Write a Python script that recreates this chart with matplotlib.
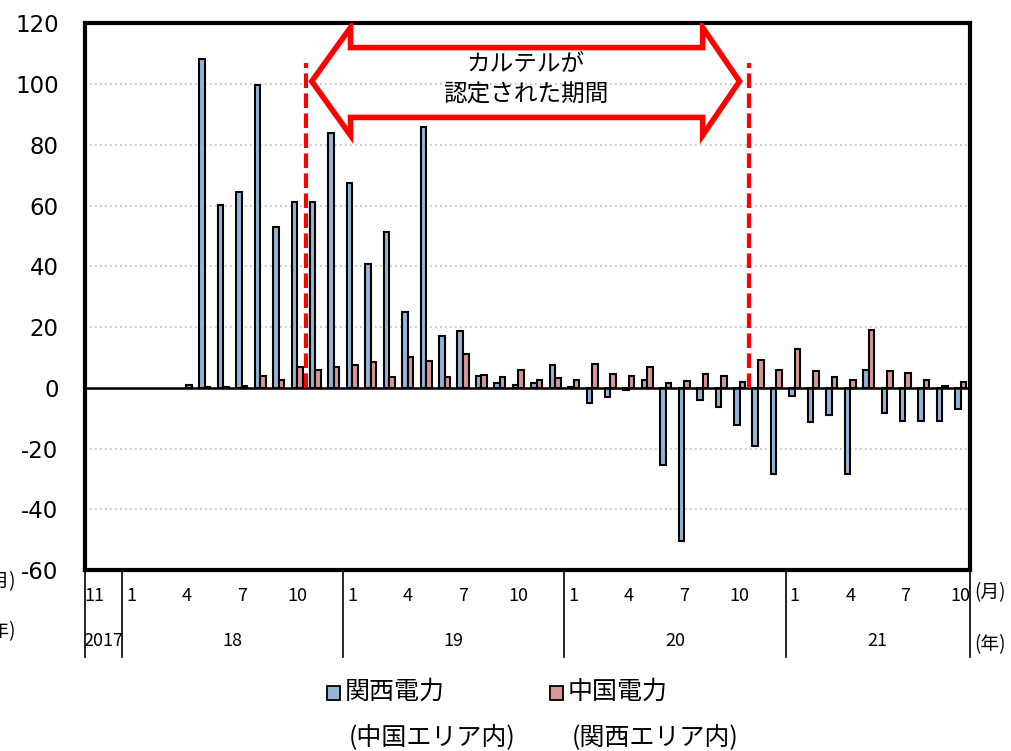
import numpy as np
import matplotlib
matplotlib.use("Agg")
import matplotlib.pyplot as plt
from matplotlib.patches import Polygon, Rectangle
from matplotlib.transforms import blended_transform_factory

plt.rcParams["font.family"] = ["Noto Sans CJK JP", "DejaVu Sans"]

# ── data: monthly values, Nov 2017 .. Oct 2021 ─────────────────────────
kansai = [0, 0, 0, 0, 0, 0, 108.2, 60.3, 64.6, 99.8, 53.0, 61.3,
          61.3, 83.8, 67.4, 40.8, 51.3, 25.0, 85.7, 16.9, 18.6, 3.9, 1.6, 0.9,
          1.6, 7.4, 0.3, -5.0, -3.2, -0.9, 2.7, -25.3, -50.6, -3.9, -6.3, -12.4,
          -19.2, -28.4, -2.8, -11.3, -8.9, -28.4, 6.0, -8.4, -10.8, -11.1, -11.1, -6.9]
chugoku = [0, 0, 0, 0, 0, 0.8, 0.3, 0.3, 0.5, 4.0, 2.6, 6.7,
           5.7, 6.7, 7.4, 8.5, 3.4, 10.2, 8.8, 3.4, 11.1, 4.3, 3.6, 6.0,
           2.7, 3.3, 2.7, 7.7, 4.6, 4.0, 7.0, 1.6, 2.1, 4.4, 4.0, 2.0,
           9.1, 6.0, 12.6, 5.4, 3.7, 2.4, 19.1, 5.4, 4.7, 2.7, 0.7, 2.0]
month_pos = [0, 2, 5, 8, 11, 14, 17, 20, 23, 26, 29, 32, 35, 38, 41, 44, 47]
month_lbl = ["11", "1", "4", "7", "10", "1", "4", "7", "10",
             "1", "4", "7", "10", "1", "4", "7", "10"]
year_pos = [0.5, 7.5, 19.5, 31.5, 42.5]
year_lbl = ["2017", "18", "19", "20", "21"]
year_sep = [-0.5, 1.5, 13.5, 25.5, 37.5, 47.5]
cartel = (11.5, 35.5)          # Nov 2018 .. Oct 2020

BLUE, PINK = "#95B3D7", "#D99694"

fig = plt.figure(figsize=(10.12, 7.51), dpi=100)
ax = fig.add_axes([0.084, 0.241, 0.8745, 0.728])

x = np.arange(len(kansai))
w = 0.3
# no outline on empty months (Excel draws nothing there)
ax.bar(x - w / 2, kansai, w, color=BLUE, edgecolor="black",
       lw=[1.5 if v else 0 for v in kansai], zorder=3)
ax.bar(x + w / 2, chugoku, w, color=PINK, edgecolor="black",
       lw=[1.5 if v else 0 for v in chugoku], zorder=3)
ax.axhline(0, color="black", lw=1.8, zorder=4)

ax.set_xlim(-0.5, 47.5)
ax.set_ylim(-60, 120)
ax.set_yticks(range(-60, 121, 20))
ax.set_yticklabels([str(v) for v in range(-60, 121, 20)],
                   family="DejaVu Sans", fontsize=16.5)
ax.tick_params(axis="y", length=0, pad=19)
ax.set_xticks([])
for v in range(-40, 120, 20):
    if v != 0:
        ax.axhline(v, color="#BFBFBF", lw=1.2, ls=(0, (1, 2)), zorder=1)
for s in ax.spines.values():
    s.set_linewidth(3)

# ── cartel period: dashed lines + hollow double arrow ─────────────────
for xc in cartel:
    ax.plot([xc, xc], [0, 107], color="red", lw=3, ls=(0, (3.5, 1.3)),
            zorder=5, solid_capstyle="butt")
arrow = [(11.8, 100.9), (13.9, 118.6), (13.9, 112), (33.0, 112), (33.0, 118.6),
         (35.0, 100.9), (33.0, 83.1), (33.0, 89.0), (13.9, 89.0), (13.9, 83.1)]
ax.add_patch(Polygon(arrow, closed=True, fill=False, edgecolor="red",
                     lw=4, joinstyle="miter", zorder=5))
ax.text(23.4, 106.3, "カルテルが", ha="center", va="center", fontsize=17)
ax.text(23.4, 96.5, "認定された期間", ha="center", va="center", fontsize=17)

# ── category axis below the plot ──────────────────────────────────────
tr = blended_transform_factory(ax.transData, ax.transAxes)
for xs in year_sep:
    ax.plot([xs, xs], [0, -0.159], color="black", lw=1.2, transform=tr,
            clip_on=False)
for p, l in zip(month_pos, month_lbl):
    ax.text(p, -0.047, l, transform=tr, ha="center", va="center", fontsize=13)
for p, l in zip(year_pos, year_lbl):
    ax.text(p, -0.13, l, transform=tr, ha="center", va="center", fontsize=13)
ax.text(47.75, -0.042, "(月)", transform=tr, ha="left", va="center", fontsize=13.5)
ax.text(47.75, -0.137, "(年)", transform=tr, ha="left", va="center", fontsize=13.5)
fig.text(16 / 1012, 1 - 582 / 751, "(月)", ha="right", va="center", fontsize=13.5)
fig.text(16 / 1012, 1 - 632 / 751, "(年)", ha="right", va="center", fontsize=13.5)

# ── legend (manual, two-line labels) ──────────────────────────────────
W, H = 1012, 751
for x0, col, l1, l2 in [(327, BLUE, "関西電力", "(中国エリア内)"),
                        (550, PINK, "中国電力", "(関西エリア内)")]:
    fig.patches.append(Rectangle((x0 / W, 1 - 700 / H), 13 / W, 14 / H,
                                 transform=fig.transFigure, facecolor=col,
                                 edgecolor="black", lw=1.3))
    fig.text((x0 + 18) / W, 1 - 692 / H, l1, ha="left", va="center", fontsize=18)
    fig.text((x0 + 22) / W, 1 - 738 / H, l2, ha="left", va="center", fontsize=18)

fig.savefig("out.png", dpi=100)
